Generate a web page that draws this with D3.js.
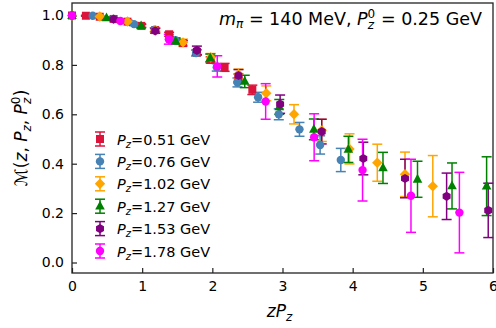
<!DOCTYPE html>
<html>
<head>
<meta charset="utf-8">
<script src="https://cdn.jsdelivr.net/npm/d3@7"></script>
<style>
body { margin: 0; background: #fff; }
text { font-family: "DejaVu Sans", sans-serif; fill: #000; }
</style>
</head>
<body>
<div id="chart"></div>
<script>
const pzLabels = ["0.51", "0.76", "1.02", "1.27", "1.53", "1.78"];

// each point: [zPz, M, error]
const pz051 = [
  [0, 1.0, 0], [0.198, 0.999, 0.002], [0.395, 0.995, 0.003], [0.593, 0.986, 0.004],
  [0.791, 0.975, 0.005], [0.988, 0.958, 0.006], [1.186, 0.941, 0.007], [1.384, 0.924, 0.008],
  [1.582, 0.888, 0.010], [1.779, 0.850, 0.011], [1.977, 0.820, 0.013], [2.175, 0.790, 0.016],
  [2.372, 0.745, 0.018], [2.570, 0.699, 0.019]
];
const pz076 = [
  [0, 1.0, 0], [0.295, 0.999, 0.002], [0.589, 0.986, 0.004], [0.884, 0.965, 0.006],
  [1.179, 0.942, 0.008], [1.474, 0.900, 0.010], [1.768, 0.848, 0.012], [2.063, 0.790, 0.015],
  [2.358, 0.729, 0.018], [2.652, 0.669, 0.020], [2.947, 0.600, 0.022], [3.242, 0.539, 0.028],
  [3.536, 0.476, 0.037], [3.831, 0.415, 0.047]
];
const pz102 = [
  [0, 1.0, 0], [0.396, 0.996, 0.003], [0.791, 0.976, 0.006], [1.187, 0.940, 0.010],
  [1.582, 0.891, 0.013], [1.978, 0.830, 0.016], [2.373, 0.763, 0.020], [2.769, 0.685, 0.030],
  [3.164, 0.600, 0.039], [3.560, 0.535, 0.045], [3.955, 0.460, 0.061], [4.351, 0.404, 0.075],
  [4.746, 0.357, 0.090], [5.142, 0.309, 0.124]
];
const pz127 = [
  [0, 1.0, 0], [0.492, 0.990, 0.004], [0.985, 0.958, 0.008], [1.477, 0.896, 0.012],
  [1.970, 0.828, 0.016], [2.462, 0.733, 0.025], [2.954, 0.630, 0.030], [3.447, 0.539, 0.042],
  [3.939, 0.458, 0.053], [4.432, 0.383, 0.063], [4.924, 0.337, 0.073], [5.416, 0.310, 0.093],
  [5.909, 0.309, 0.119]
];
const pz153 = [
  [0, 1.0, 0], [0.593, 0.985, 0.004], [1.186, 0.938, 0.010], [1.780, 0.859, 0.017],
  [2.373, 0.757, 0.024], [2.966, 0.641, 0.037], [3.559, 0.530, 0.050], [4.152, 0.421, 0.066],
  [4.746, 0.340, 0.078], [5.339, 0.268, 0.094], [5.932, 0.211, 0.110]
];
const pz178 = [
  [0, 1.0, 0], [0.690, 0.978, 0.006], [1.380, 0.904, 0.020], [2.070, 0.794, 0.043],
  [2.760, 0.652, 0.072], [3.451, 0.507, 0.095], [4.141, 0.374, 0.125], [4.831, 0.270, 0.148],
  [5.521, 0.202, 0.163]
];

const seriesData = [pz051, pz076, pz102, pz127, pz153, pz178];
const colors = ["#dc143c", "#4682b4", "#ffa500", "#008000", "#800080", "#ff00ff"];
const shapes = ["square", "circle", "diamond", "triangle", "hexagon", "circle"];
const xTicks = [0, 1, 2, 3, 4, 5, 6];
const yTicks = [0, 0.2, 0.4, 0.6, 0.8, 1.0];

const margin = { top: 3, right: 3, bottom: 55, left: 72 },
      width = 496 - margin.left - margin.right,
      height = 328 - margin.top - margin.bottom;

const svg = d3.select("#chart")
  .append("svg")
  .attr("width", 496)
  .attr("height", 328)
  .append("g")
  .attr("transform", `translate(${margin.left},${margin.top})`);

const x = d3.scaleLinear().domain([0, 6]).range([0, width]);
const y = d3.scaleLinear().domain([-0.0425, 1.0506]).range([height, 0]);

function markerPath(shape) {
  if (shape === "square") return "M-4,-4h8v8h-8Z";
  if (shape === "diamond") return "M0,-5.2L5.2,0L0,5.2L-5.2,0Z";
  if (shape === "triangle") return "M0,-5.4L4.8,3.4L-4.8,3.4Z";
  if (shape === "hexagon") {
    const r = 4.6;
    return "M" + d3.range(6).map(i => {
      const a = (-90 + 60 * i) * Math.PI / 180;
      return [r * Math.cos(a), r * Math.sin(a)].join(",");
    }).join("L") + "Z";
  }
  return d3.symbol(d3.symbolCircle, Math.PI * 4.2 * 4.2)();
}

// axes, ticks pointing inwards
svg.append("g")
  .attr("transform", `translate(0,${height})`)
  .call(d3.axisBottom(x).tickValues(xTicks).tickFormat(d3.format("d")).tickSize(-5).tickPadding(8))
  .call(g => g.select(".domain").remove());
svg.append("g")
  .call(d3.axisLeft(y).tickValues(yTicks).tickFormat(d3.format(".1f")).tickSize(-5).tickPadding(8))
  .call(g => g.select(".domain").remove());
svg.selectAll(".tick text").style("font-size", "14px").style("font-family", "DejaVu Sans");
svg.selectAll(".tick line").attr("stroke", "#222").attr("stroke-width", 1.2);

svg.append("rect")
  .attr("width", width)
  .attr("height", height)
  .attr("fill", "none")
  .attr("stroke", "#222")
  .attr("stroke-width", 1.3);

// error bars first, markers on top
seriesData.forEach((pts, i) => {
  const g = svg.append("g").attr("stroke", colors[i]).attr("stroke-width", 1.5);
  pts.filter(d => d[2] > 0).forEach(d => {
    const cx = x(d[0]), y0 = y(d[1] - d[2]), y1 = y(d[1] + d[2]);
    g.append("line").attr("x1", cx).attr("x2", cx).attr("y1", y0).attr("y2", y1);
    g.append("line").attr("x1", cx - 5).attr("x2", cx + 5).attr("y1", y0).attr("y2", y0);
    g.append("line").attr("x1", cx - 5).attr("x2", cx + 5).attr("y1", y1).attr("y2", y1);
  });
});
seriesData.forEach((pts, i) => {
  svg.append("g").selectAll("path")
    .data(pts)
    .enter()
    .append("path")
    .attr("d", markerPath(shapes[i]))
    .attr("transform", d => `translate(${x(d[0])},${y(d[1])})`)
    .attr("fill", colors[i]);
});

// legend
const legend = svg.append("g").attr("transform", "translate(28,136)");
pzLabels.forEach((lab, i) => {
  const row = legend.append("g").attr("transform", `translate(0,${i * 22.4})`);
  row.append("line").attr("x1", 0).attr("x2", 0).attr("y1", -7).attr("y2", 7)
    .attr("stroke", colors[i]).attr("stroke-width", 1.5);
  [-7, 7].forEach(v => row.append("line").attr("x1", -5).attr("x2", 5).attr("y1", v).attr("y2", v)
    .attr("stroke", colors[i]).attr("stroke-width", 1.5));
  row.append("path").attr("d", markerPath(shapes[i])).attr("fill", colors[i]);
  const t = row.append("text").attr("x", 17).attr("y", 5.5).style("font-size", "14.5px");
  t.append("tspan").style("font-style", "italic").text("P");
  t.append("tspan").style("font-style", "italic").style("font-size", "10px").attr("dy", 3).text("z");
  t.append("tspan").attr("dy", -3).text(`=${lab} GeV`);
});

// annotation, right aligned inside the frame
const ann = svg.append("text").attr("x", 410).attr("y", 22)
  .attr("text-anchor", "end").style("font-size", "17.5px");
ann.append("tspan").style("font-style", "italic").text("m");
ann.append("tspan").style("font-style", "italic").style("font-size", "12px").attr("dy", 3).text("π");
ann.append("tspan").attr("dy", -3).text(" = 140 MeV, ");
ann.append("tspan").style("font-style", "italic").text("P");
ann.append("tspan").style("font-size", "12px").attr("dy", -7).text("0");
ann.append("tspan").style("font-style", "italic").style("font-size", "12px").attr("dx", -7.6).attr("dy", 11).text("z");
ann.append("tspan").attr("dy", -4).attr("dx", 1.4).text(" = 0.25 GeV");

// axis labels
const xl = svg.append("text").attr("x", width / 2 - 3).attr("y", height + 44)
  .attr("text-anchor", "middle").style("font-size", "17px");
xl.append("tspan").style("font-style", "italic").text("zP");
xl.append("tspan").style("font-style", "italic").style("font-size", "12px").attr("dy", 4).text("z");

const yl = svg.append("text").attr("transform", "rotate(-90)")
  .attr("x", -height / 2).attr("y", -45)
  .attr("text-anchor", "middle").style("font-size", "17px");
yl.append("tspan").text("ℳ(");
yl.append("tspan").style("font-style", "italic").text("z");
yl.append("tspan").text(", ");
yl.append("tspan").style("font-style", "italic").text("P");
yl.append("tspan").style("font-style", "italic").style("font-size", "12px").attr("dy", 4).text("z");
yl.append("tspan").attr("dy", -4).text(", ");
yl.append("tspan").style("font-style", "italic").text("P");
yl.append("tspan").style("font-size", "12px").attr("dy", -7).text("0");
yl.append("tspan").style("font-style", "italic").style("font-size", "12px").attr("dx", -7.6).attr("dy", 11).text("z");
yl.append("tspan").attr("dy", -4).attr("dx", 1.5).text(")");
</script>
</body>
</html>
